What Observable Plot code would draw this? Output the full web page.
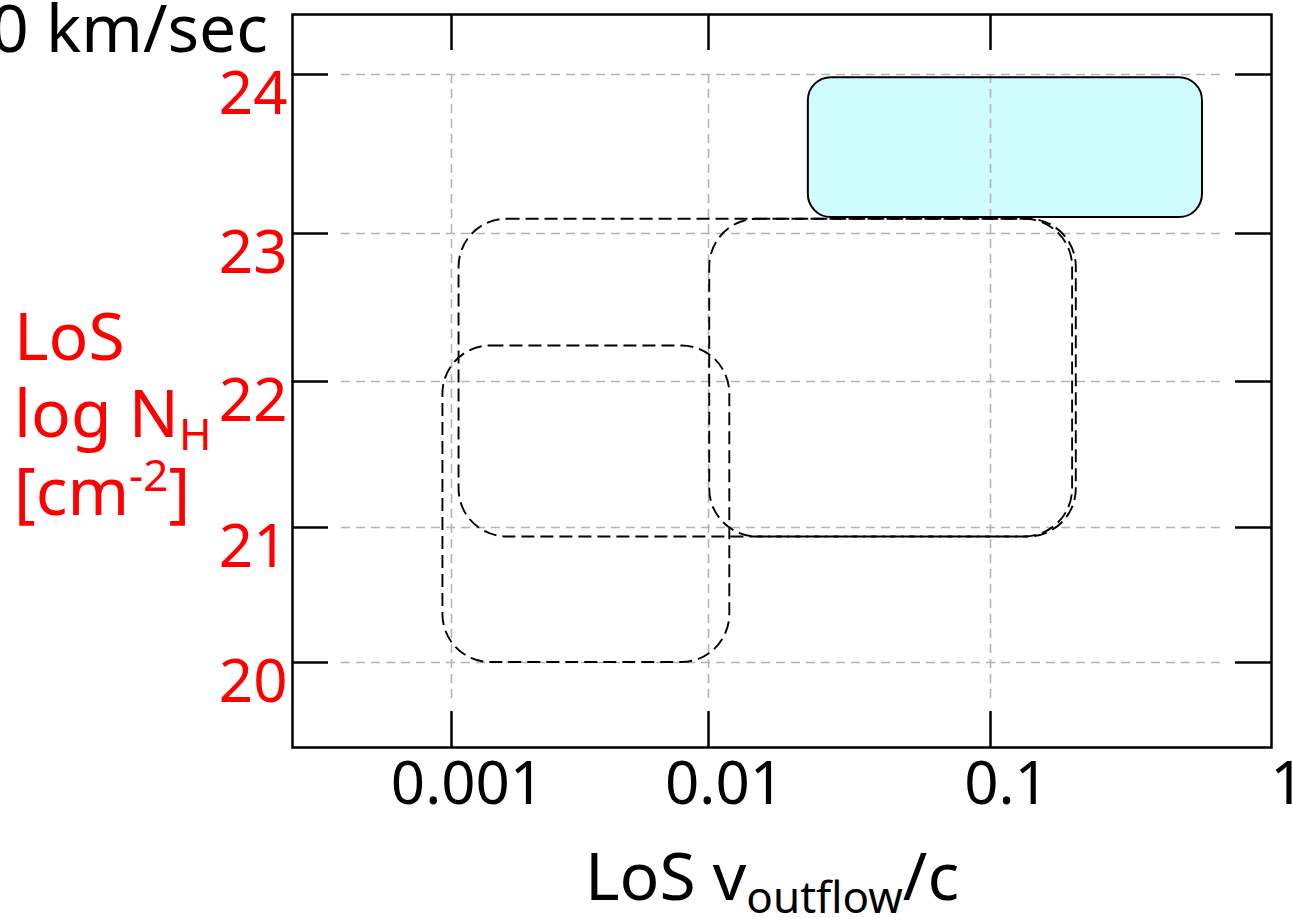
<!DOCTYPE html>
<html><head><meta charset="utf-8">
<script src="https://cdn.jsdelivr.net/npm/d3@7"></script>
<script src="https://cdn.jsdelivr.net/npm/@observablehq/plot@0.6"></script>
<style>
body{margin:0;background:#fff;overflow:hidden}
#wrap{position:relative;width:1292px;height:918px;overflow:hidden;font-family:"Comic Sans MS","Noto Sans",sans-serif}
.lab{position:absolute;white-space:nowrap;line-height:1;font-size:66px}
.lab sub{font-size:44px;vertical-align:-0.3em;line-height:0}
.lab sup{font-size:44px;vertical-align:0.55em;line-height:0}
#wrap svg{position:absolute;left:0;top:0}
</style></head><body><div id="wrap"></div>
<script>
// tick values and labels
const xTicks = [0.001, 0.01, 0.1, 1];
const xTickLabels = ["0.001", "0.01", "0.1", "1"];
const yTicks = [24, 23, 22, 21, 20];
const yTickLabels = ["24", "23", "22", "21", "20"];

// dashed regions (LoS v/c range, log NH range)
const regionX1 = [0.00107, 0.0101, 0.00093];
const regionX2 = [0.202, 0.196, 0.0119];
const regionY1 = [20.93, 20.93, 20.0];
const regionY2 = [23.09, 23.09, 22.24];

// highlighted (cyan) region
const cyanX = [0.0226, 0.568];
const cyanY = [23.1, 23.98];

const regions = regionX1.map((d, i) => ({x1: regionX1[i], x2: regionX2[i], y1: regionY1[i], y2: regionY2[i]}));
const cyanBox = [{x1: cyanX[0], x2: cyanX[1], y1: cyanY[0], y2: cyanY[1]}];

const FONT = '"Comic Sans MS","Noto Sans",sans-serif';
const gridStyle = {stroke: "#b4b4b4", strokeWidth: 1.6, strokeDasharray: "9,6"};

const chart = Plot.plot({
  width: 1292,
  height: 918,
  marginLeft: 292,
  marginRight: 21,
  marginTop: 14,
  marginBottom: 171,
  style: {fontFamily: FONT, background: "transparent", overflow: "visible"},
  x: {type: "log", domain: [0.00026, 0.001, 0.01, 0.1, 1], range: [292, 451, 708, 990, 1271], axis: null},
  y: {type: "linear", domain: [19.37, 20, 21, 22, 23, 24, 24.38], range: [747, 662, 527, 381, 233, 74, 14], axis: null},
  marks: [
    Plot.rect(cyanBox, {x1: "x1", x2: "x2", y1: "y1", y2: "y2", fill: "#cffcfc", rx: 23}),
    Plot.ruleY(yTicks, {y: d => d, ...gridStyle, insetLeft: 49, insetRight: 49}),
    Plot.ruleX(xTicks.slice(0, 3), {x: d => d, ...gridStyle, insetTop: 60, insetBottom: 48}),
    Plot.rect(cyanBox, {x1: "x1", x2: "x2", y1: "y1", y2: "y2", fill: "none", stroke: "black", strokeWidth: 2, rx: 23}),
    Plot.rect(regions, {x1: "x1", x2: "x2", y1: "y1", y2: "y2", fill: "none", stroke: "black", strokeWidth: 1.9, strokeDasharray: "13,6", rx: 48}),
    Plot.tickY(yTicks, {y: d => d, stroke: "black", strokeWidth: 2.5, insetRight: 943}),
    Plot.tickY(yTicks, {y: d => d, stroke: "black", strokeWidth: 2.5, insetLeft: 943}),
    Plot.tickX(xTicks.slice(0, 3), {x: d => d, stroke: "black", strokeWidth: 2.5, insetBottom: 697}),
    Plot.tickX(xTicks.slice(0, 3), {x: d => d, stroke: "black", strokeWidth: 2.5, insetTop: 697}),
    Plot.frame({stroke: "black", strokeWidth: 2.5}),
    Plot.text(xTicks, {x: d => d, text: (d, i) => xTickLabels[i], frameAnchor: "bottom", dy: 56, dx: 16, fontSize: 60, fill: "black"}),
    Plot.text(yTicks, {y: d => d, text: (d, i) => yTickLabels[i], frameAnchor: "left", textAnchor: "end", dx: -5, dy: 20, fontSize: 60, fill: "red"})
  ]
});

const wrap = document.getElementById("wrap");
wrap.appendChild(chart);

function label(html, style) {
  const d = document.createElement("div");
  d.className = "lab";
  d.innerHTML = html;
  Object.assign(d.style, style);
  wrap.appendChild(d);
}
label("0 km/sec", {right: (1292 - 268) + "px", top: "-7px", color: "black"});
label("LoS", {left: "14px", top: "301px", color: "red"});
label("log N<sub>H</sub>", {left: "14px", top: "378px", color: "red"});
label("[cm<sup>-2</sup>]", {left: "14px", top: "456px", color: "red"});
label("LoS v<sub>outflow</sub>/c", {left: "772px", top: "841px", color: "black", transform: "translateX(-50%)"});
</script>
</body></html>
